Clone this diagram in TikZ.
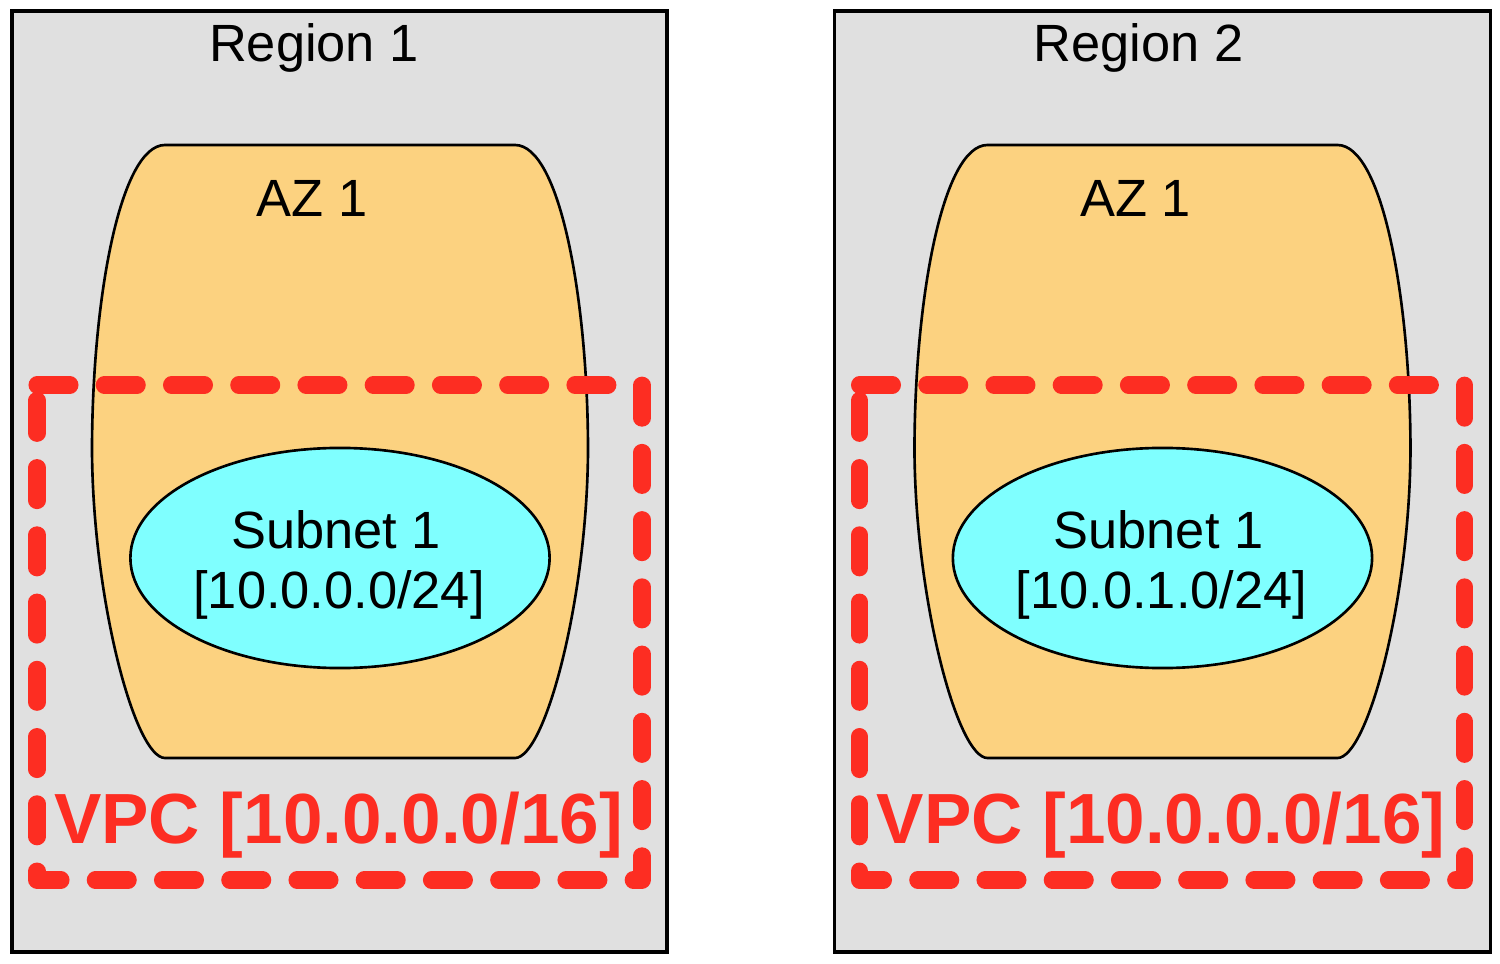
\documentclass[tikz,border=0pt]{standalone}
\usepackage{fontspec}
\setmainfont{Liberation Sans}
\usetikzlibrary{shapes.geometric}
\definecolor{regionfill}{RGB}{224,224,224}
\definecolor{azfill}{RGB}{252,210,128}
\definecolor{subnetfill}{RGB}{127,255,255}
\definecolor{vpcred}{RGB}{253,45,34}
\tikzset{
  regionbox/.style={draw=black, fill=regionfill, line width=0.9pt},
  azshape/.style={draw=black, fill=azfill, line width=0.75pt},
  subnet/.style={ellipse, draw=black, fill=subnetfill, line width=0.75pt, inner sep=0pt, minimum width=4.19cm, minimum height=2.2cm},
  vpcbox/.style={draw=vpcred, line width=4.84pt, line cap=round, line join=round, dash pattern=on 0.33cm off 0.342cm},
  label/.style={anchor=base, inner sep=0pt, font=\fontsize{14.9}{17}\selectfont},
  vpclabel/.style={anchor=base, inner sep=0pt, text=vpcred, font=\bfseries\fontsize{20.2}{22}\selectfont},
}
\begin{document}
\begin{tikzpicture}[x=0.01cm, y=-0.01cm]
\useasboundingbox (0,0) rectangle (1500,964);
% ---------- Region 1 ----------
\draw[regionbox] (12,11) rectangle (667,952);
\draw[azshape] (165,145) -- (515,145)
  .. controls (560,145) and (588,300) .. (588,451)
  .. controls (587,600) and (545,758) .. (515,758)
  -- (165,758)
  .. controls (135,758) and (93,600) .. (92,451)
  .. controls (92,300) and (120,145) .. (165,145) -- cycle;
\node[subnet] (sub1) at (340,558) {};
\draw[vpcbox] (37,385) -- (642,385) -- (642,880) -- (37,880) -- cycle;
\node[label] (reg1) at (314,62) {Region 1};
\node[label] (az1) at (312,217) {AZ 1};
\node[label] (sub1a) at (336,548) {Subnet 1};
\node[label] (sub1b) at (339,608) {[10.0.0.0/24]};
\node[vpclabel] (vpc1) at (338.5,843) {VPC [10.0.0.0/16]};
% ---------- Region 2 ----------
\begin{scope}[xshift=8.22cm]
\draw[regionbox] (12,11) rectangle (668,952);
\draw[azshape] (165,145) -- (515,145)
  .. controls (560,145) and (588,300) .. (588,451)
  .. controls (587,600) and (545,758) .. (515,758)
  -- (165,758)
  .. controls (135,758) and (93,600) .. (92,451)
  .. controls (92,300) and (120,145) .. (165,145) -- cycle;
\node[subnet] (sub2) at (340,558) {};
\draw[vpcbox] (37,385) -- (642,385) -- (642,880) -- (37,880) -- cycle;
\node[label] (reg2) at (316,62) {Region 2};
\node[label] (az2) at (313,217) {AZ 1};
\node[label] (sub2a) at (336,548) {Subnet 1};
\node[label] (sub2b) at (339,608) {[10.0.1.0/24]};
\node[vpclabel] (vpc2) at (338.5,843) {VPC [10.0.0.0/16]};
\end{scope}
\end{tikzpicture}
\end{document}
